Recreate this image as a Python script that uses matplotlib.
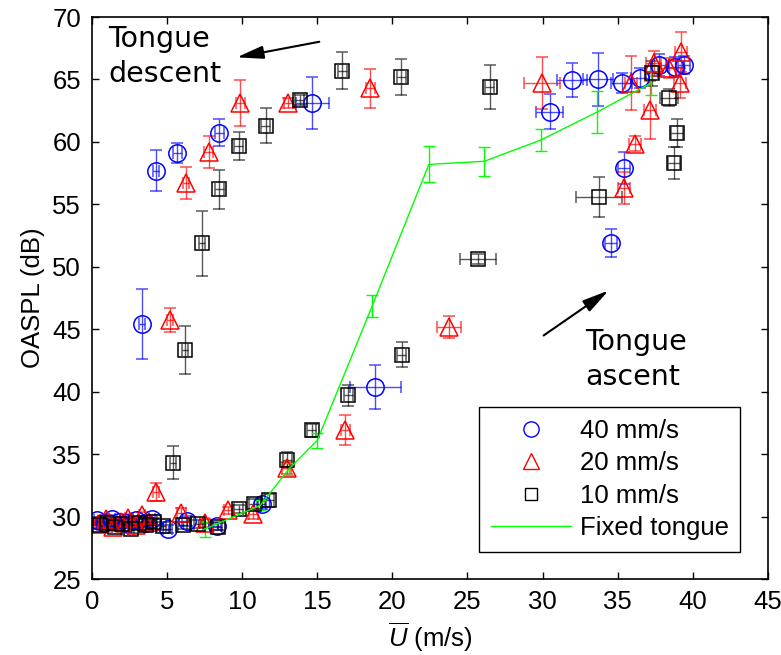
import numpy as np
import matplotlib
matplotlib.use("Agg")
import matplotlib.pyplot as plt
from matplotlib.lines import Line2D

plt.rcParams['font.family'] = ['Liberation Sans', 'DejaVu Sans']
plt.rcParams['mathtext.fontset'] = 'custom'
plt.rcParams['mathtext.it'] = 'Liberation Sans:italic'
plt.rcParams['mathtext.rm'] = 'Liberation Sans'

# 40 mm/s (blue circles)
u40 = [0.3, 0.8, 1.3, 1.8, 2.3, 2.9, 3.5, 4.0, 5.05, 6.3, 8.3, 11.3,
       3.3, 4.22, 5.67, 8.45, 14.67, 18.85, 30.49, 31.98, 33.69, 34.56,
       35.29, 35.45, 36.5, 37.73, 38.85, 39.4]
p40 = [29.7, 29.5, 29.8, 29.6, 29.5, 29.7, 29.5, 29.8, 29.0, 29.65, 29.25, 31.0,
       45.4, 57.7, 59.1, 60.75, 63.1, 40.35, 62.4, 64.95, 65.0, 51.9,
       64.7, 57.9, 65.1, 66.15, 66.0, 66.15]
e40 = [0.3, 0.3, 0.3, 0.3, 0.3, 0.3, 0.3, 0.3, 0.3, 0.4, 0.3, 0.4,
       2.8, 1.65, 0.8, 1.1, 2.1, 1.75, 1.4, 1.35, 2.15, 1.1,
       0.8, 1.3, 0.8, 0.9, 0.8, 0.7]
ex40 = [0.2, 0.2, 0.2, 0.2, 0.2, 0.2, 0.2, 0.2, 0.3, 0.3, 0.3, 0.3,
        0.2, 0.2, 0.3, 0.3, 1.1, 1.7, 0.9, 1.0, 1.0, 0.4,
        0.7, 0.4, 0.6, 0.5, 0.5, 0.4]

# 20 mm/s (red triangles)
u20 = [0.4, 0.9, 1.4, 1.9, 2.4, 2.9, 3.3, 3.8, 4.27, 5.93, 7.5, 9.07, 10.73,
       12.96, 16.85, 23.78, 5.18, 6.27, 7.78, 9.87, 13.05, 18.51, 29.98,
       35.45, 36.13, 35.91, 37.18, 37.4, 38.4, 39.18, 39.25]
p20 = [29.4, 29.8, 29.2, 29.6, 29.9, 29.3, 30.1, 29.6, 31.95, 30.3, 29.5, 30.5, 30.2,
       33.9, 36.9, 45.2, 45.75, 56.7, 59.2, 63.1, 63.1, 64.3, 64.7,
       56.3, 59.85, 64.7, 62.55, 66.3, 65.9, 64.7, 67.2]
e20 = [0.3, 0.3, 0.3, 0.3, 0.3, 0.3, 0.3, 0.3, 0.7, 0.4, 0.3, 0.3, 0.4,
       0.5, 1.2, 0.9, 0.95, 1.27, 1.27, 1.83, 0.4, 1.55, 2.1,
       1.3, 0.6, 2.15, 2.3, 1.0, 0.8, 1.2, 1.6]
ex20 = [0.2, 0.2, 0.2, 0.2, 0.2, 0.2, 0.2, 0.2, 0.2, 0.3, 0.3, 0.3, 0.3,
        0.3, 0.3, 0.8, 0.2, 0.2, 0.3, 0.3, 0.3, 0.3, 1.2,
        0.4, 0.4, 0.4, 0.4, 0.5, 0.5, 0.4, 0.4]

# 10 mm/s (black squares)
u10 = [0.5, 1.0, 1.5, 2.0, 2.6, 3.1, 3.6, 4.1, 4.71, 6.05, 7.07, 8.35, 9.75,
       10.78, 11.8, 13.0, 14.62, 17.05, 20.63, 25.71, 5.38, 6.18, 7.29, 8.47,
       9.78, 11.56, 13.82, 16.65, 20.6, 26.49, 33.76, 37.29, 38.4, 38.96, 38.73]
p10 = [29.3, 29.5, 29.2, 29.4, 29.0, 29.5, 29.3, 29.6, 29.25, 29.3, 29.4, 29.2, 30.6,
       31.0, 31.3, 34.55, 36.9, 39.7, 42.95, 50.6, 34.3, 43.35, 51.9, 56.2,
       59.7, 61.3, 63.35, 65.7, 65.2, 64.4, 55.6, 65.5, 63.55, 60.7, 58.3]
e10 = [0.3, 0.3, 0.3, 0.3, 0.3, 0.3, 0.3, 0.3, 0.3, 0.3, 0.3, 0.3, 0.3,
       0.4, 0.5, 0.6, 0.5, 0.85, 1.0, 0.4, 1.33, 1.94, 2.6, 1.56,
       1.13, 1.38, 0.4, 1.5, 1.44, 1.76, 1.6, 1.0, 0.7, 1.1, 1.3]
ex10 = [0.2, 0.2, 0.2, 0.2, 0.2, 0.2, 0.2, 0.2, 0.2, 0.3, 0.3, 0.3, 0.3,
        0.3, 0.3, 0.3, 0.3, 0.3, 0.3, 1.2, 0.2, 0.2, 0.2, 0.3,
        0.3, 0.3, 0.3, 0.3, 0.3, 0.3, 1.5, 0.4, 0.6, 0.4, 0.4]

# fixed tongue (green line)
uf = [7.5, 11.2, 13.1, 15.0, 18.65, 22.43, 26.13, 29.89, 33.65, 37.2]
pf = [29.0, 30.9, 33.8, 36.1, 46.85, 58.2, 58.45, 60.15, 62.4, 64.7]
ef = [0.6, 0.4, 0.5, 0.6, 0.87, 1.44, 1.18, 0.87, 1.68, 0.95]

fig = plt.figure(figsize=(7.81, 6.55), dpi=100)
ax = fig.add_axes([0.118, 0.116, 0.865, 0.858])

kw = dict(linestyle='none', capsize=4.5, elinewidth=1, capthick=1,
          markerfacecolor='none', markeredgewidth=1.1)
ax.errorbar(u40, p40, yerr=e40, xerr=ex40, marker='o', markersize=12.5,
            color='#0000ff', ecolor=(0, 0, 1, 0.7), markeredgecolor='#0000ff', **kw)
ax.errorbar(u20, p20, yerr=e20, xerr=ex20, marker='^', markersize=13,
            color='#ff0000', ecolor=(1, 0, 0, 0.7), markeredgecolor='#ff0000', **kw)
ax.errorbar(u10, p10, yerr=e10, xerr=ex10, marker='s', markersize=10,
            color='k', ecolor=(0, 0, 0, 0.65), markeredgecolor='k', **kw)
ax.errorbar(uf, pf, yerr=ef, color='#00ff00', linewidth=1, capsize=4.5,
            elinewidth=1, capthick=1)

ax.set_xlim(0, 45)
ax.set_ylim(25, 70)
ax.set_xticks(np.arange(0, 46, 5))
ax.set_yticks(np.arange(25, 71, 5))
ax.tick_params(direction='in', top=True, right=True, length=5, width=1,
               labelsize=18.5, pad=8)
for s in ax.spines.values():
    s.set_linewidth(1.2)

ax.set_xlabel(r'$\overline{U}$ (m/s)', fontsize=18.5, labelpad=5)
ax.set_ylabel('OASPL (dB)', fontsize=18.5, labelpad=5)

ax.text(1.07, 66.83, 'Tongue\ndescent', fontsize=20.5, family='DejaVu Sans',
        va='center', ha='left', linespacing=1.3)
ax.text(32.85, 42.57, 'Tongue\nascent', fontsize=20.5, family='DejaVu Sans',
        va='center', ha='left', linespacing=1.3)
arrow = dict(arrowstyle='-|>,head_length=0.9,head_width=0.22', color='k',
             lw=1.5, shrinkA=0, shrinkB=0, mutation_scale=18)
ax.annotate('', xy=(9.63, 66.77), xytext=(15.13, 68.02), arrowprops=arrow)
ax.annotate('', xy=(34.4, 48.1), xytext=(30.07, 44.5), arrowprops=arrow)

handles = [
    Line2D([], [], linestyle='none', marker='o', markersize=11,
           markerfacecolor='none', markeredgecolor='#0000ff'),
    Line2D([], [], linestyle='none', marker='^', markersize=11,
           markerfacecolor='none', markeredgecolor='#ff0000'),
    Line2D([], [], linestyle='none', marker='s', markersize=8,
           markerfacecolor='none', markeredgecolor='k'),
    Line2D([], [], color='#00ff00', linewidth=1),
]
labels = ['40 mm/s', '20 mm/s', '10 mm/s', 'Fixed tongue']
leg = ax.legend(handles, labels, loc='lower right',
                bbox_to_anchor=(0.9593, 0.0486), fontsize=18.5,
                handlelength=3.1, handletextpad=0.35, labelspacing=0.33,
                borderpad=0.45, borderaxespad=0, fancybox=False, framealpha=1,
                edgecolor='k')
leg.get_frame().set_linewidth(1)

fig.savefig('out.png', dpi=100)
